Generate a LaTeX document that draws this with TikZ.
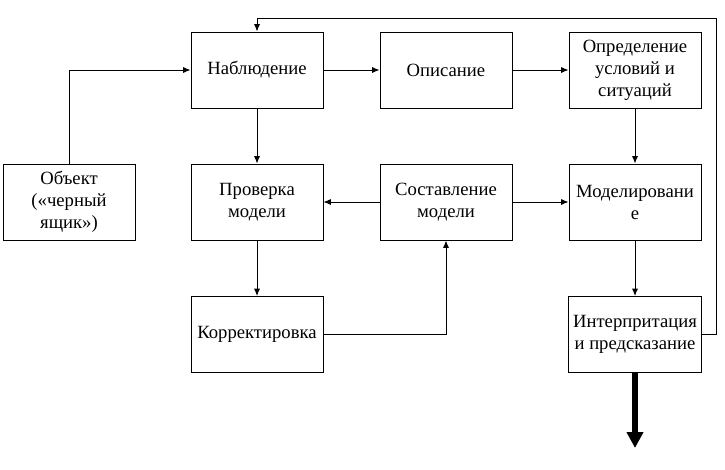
\documentclass[tikz,border=0pt]{standalone}
\usepackage{fontspec}
\setmainfont{Liberation Serif}
\usepackage{tikz}
\usetikzlibrary{arrows}
\usetikzlibrary{arrows.meta}
\usetikzlibrary{positioning}
\tikzset{
  blok/.style={draw, line width=0.7pt, minimum width=99pt, minimum height=57pt, align=center, font=\fontsize{14}{16.5}\selectfont},
  strel/.style={line width=0.7pt, -{Latex[length=5.5pt,width=4.5pt]}}
}
\begin{document}
\begin{tikzpicture}[x=0.75pt, y=-0.75pt]
      \useasboundingbox (0,0) rectangle (725,469);
      \node[blok] (obj) at (69, 202) {Объект\\(«черный\\ящик»)};
      \node[blok] (nabl) at (257, 70) {Наблюдение};
      \node[blok] (opis) at (446, 70) {Описание};
      \node[blok] (opred) at (635, 70) {Определение\\условий и\\ситуаций};
      \node[blok] (prov) at (257, 202) {Проверка\\модели};
      \node[blok] (sost) at (446, 202) {Составление\\модели};
      \node[blok] (model) at (635, 202) {Моделировани\\е};
      \node[blok] (korr) at (257, 334.5) {Корректировка};
      \node[blok] (inter) at (635, 334.5) {Интерпритация\\и предсказание};
      \coordinate (vyhod) at (635, 448);
      \draw[strel] (obj.north) |- (nabl.west);
      \draw[strel] (nabl) -- (opis);
      \draw[strel] (opis) -- (opred);
      \draw[strel] (opred) -- (model);
      \draw[strel] (nabl) -- (prov);
      \draw[strel] (sost) -- (prov);
      \draw[strel] (sost) -- (model);
      \draw[strel] (prov) -- (korr);
      \draw[strel] (korr.east) -| (sost.south);
      \draw[strel] (model) -- (inter);
      \draw[strel] (inter.east) -- ++(15,0) |- (257,18) -- (nabl.north);
      \draw[line width=5pt, -{Triangle[length=12pt,width=12pt]}] (inter.south) -- (vyhod);
  \end{tikzpicture}
\end{document}
